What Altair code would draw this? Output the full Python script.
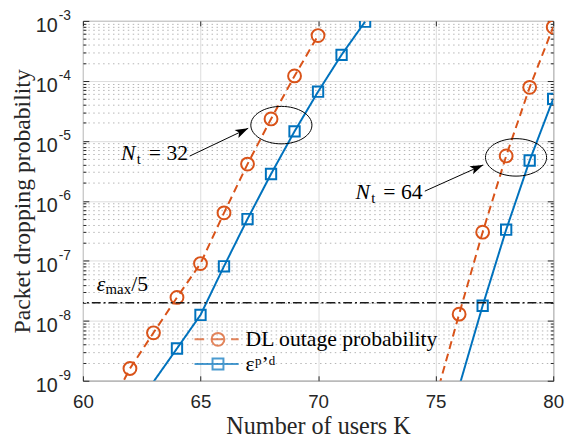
import altair as alt
import pandas as pd

# ---------------- data ----------------
SERIES = ["DL outage probability", "εᵖʼᵈ"]
COLORS = ["#D95319", "#0072BD"]

K_dl_32 = [61, 62, 63, 64, 65, 66, 67, 68, 69, 70]
P_dl_32 = [2.8e-10, 1.6e-9, 6.3e-9, 2.45e-8, 9.0e-8, 6.3e-7, 4.1e-6, 2.32e-5, 1.21e-4, 5.7e-4]
K_pd_32 = [63, 64, 65, 66, 67, 68, 69, 70, 71, 72]
P_pd_32 = [9.6e-10, 3.45e-9, 1.25e-8, 8.1e-8, 4.97e-7, 2.8e-6, 1.44e-5, 6.6e-5, 2.72e-4, 9.7e-4]
K_dl_64 = [75, 76, 77, 78, 79, 80]
P_dl_64 = [5.1e-10, 1.29e-8, 3.0e-7, 5.6e-6, 7.8e-5, 7.9e-4]
K_pd_64 = [76, 77, 78, 79, 80]
P_pd_64 = [8.0e-10, 1.78e-8, 3.3e-7, 4.7e-6, 5.0e-5]

EPS_LINE = [2e-8]

# tick values / labels
XT = [60, 65, 70, 75, 80]
YT_major = [1e-9, 1e-8, 1e-7, 1e-6, 1e-5, 1e-4, 1e-3]
YT_minor = [m * 10.0 ** e for e in range(-9, -3) for m in range(2, 10)]
YT_base = "10"
YT_exp = ["-9", "-8", "-7", "-6", "-5", "-4", "-3"]

# annotations
ann_text = ["ε", "max", "/5", "N", "t", "= 32", "N", "t", "= 64"]
ann_K = [60.587, 60.964, 62.055, 61.62, 62.29, 62.80, 71.593, 72.26, 72.774]
ann_p = [3.16e-8, 2.82e-8, 3.16e-8, 4.79e-6, 4.12e-6, 4.79e-6, 1.06e-6, 9.1e-7, 1.06e-6]
ann_size = [22, 15, 22, 22, 15, 22, 22, 15, 22]
ann_italic = [True, False, False, True, False, False, True, False, False]

ell_K = [68.44, 78.42]
ell_p = [1.83e-5, 5.3e-6]

arr_K0 = [64.54, 74.54]
arr_p0 = [5.57e-6, 1.45e-6]
arr_K1 = [67.03, 77.02]
arr_p1 = [1.62e-5, 3.96e-6]
arr_angle = [334.5, 335.8]

# ---------------- tables ----------------
rows = []
for grp, ks, ps, s in [("32", K_dl_32, P_dl_32, 0), ("32", K_pd_32, P_pd_32, 1),
                       ("64", K_dl_64, P_dl_64, 0), ("64", K_pd_64, P_pd_64, 1)]:
    for k, p in zip(ks, ps):
        rows.append({"K": k, "p": p, "series": SERIES[s], "group": grp + SERIES[s]})
df = pd.DataFrame(rows)

ann_df = pd.DataFrame({"K": ann_K, "p": ann_p, "text": ann_text, "size": ann_size, "italic": ann_italic})
ell_df = pd.DataFrame({"K": ell_K, "p": ell_p})
arr_df = pd.DataFrame({"K0": arr_K0, "p0": arr_p0, "K1": arr_K1, "p1": arr_p1, "ang": arr_angle})
eps_df = pd.DataFrame({"p": EPS_LINE})
leg_df = pd.DataFrame({"name": SERIES, "K": [None, None], "p": [None, None]})

W, H = 477, 365
xs = alt.Scale(domain=[60, 80], nice=False, zero=False)
ys = alt.Scale(type="log", domain=[1e-9, 1e-3], nice=False)

LABEL_FONT = "Liberation Sans"
SERIF = "Liberation Serif"
AX_COL = "#262626"
TICK_COL = "#262626"

common = dict(labelFlush=False, labelOverlap=False, title=None)

ax_x_main = alt.Axis(orient="bottom", values=XT, format="d", ticks=False, domain=False,
                     grid=True, gridColor="#dcdcdc", gridWidth=1,
                     labelFont=LABEL_FONT, labelFontSize=19, labelColor=AX_COL, labelPadding=12,
                     labelFlush=False, labelOverlap=False,
                     title="Number of users K", titleFont=SERIF, titleFontSize=24.5,
                     titleFontWeight="normal", titleColor=AX_COL, titleY=54,
                     titleBaseline="alphabetic")
ax_x_in_b = alt.Axis(orient="top", offset=-H, values=XT, ticks=True, tickSize=5,
                     tickColor=TICK_COL, labels=False, domain=False, grid=False, **common)
ax_x_in_t = alt.Axis(orient="bottom", offset=-H, values=XT, ticks=True, tickSize=5,
                     tickColor=TICK_COL, labels=False, domain=False, grid=False, **common)

ax_y_10 = alt.Axis(orient="left", values=YT_major, labelExpr="'" + YT_base + "'", ticks=False,
                   domain=False, grid=True, gridColor="#dcdcdc", gridWidth=1,
                   labelFont=LABEL_FONT, labelFontSize=20, labelColor=AX_COL, labelPadding=26,
                   labelOffset=4.5, labelFlush=False, labelOverlap=False,
                   title="Packet dropping probability", titleFont=SERIF, titleFontSize=24,
                   titleFontWeight="normal", titleColor=AX_COL, titleX=-54, titleY=H / 2,
                   titleAngle=270, titleBaseline="alphabetic", titleAlign="center")
sup_expr = "[" + ",".join("'" + e + "'" for e in YT_exp) + "][round(log(datum.value)/LN10)+9]"
ax_y_sup = alt.Axis(orient="left", values=YT_major, labelExpr=sup_expr, ticks=False, domain=False,
                    grid=False, labelFont=LABEL_FONT, labelFontSize=14, labelColor=AX_COL,
                    labelAlign="left", labelPadding=25, labelOffset=-5, **common)
ax_y_minor_grid = alt.Axis(orient="left", values=YT_minor, ticks=False, labels=False, domain=False,
                           grid=True, gridColor="#b5b5b5", gridDash=[1.5, 3.5], gridWidth=1, **common)
ax_y_maj_L = alt.Axis(orient="right", offset=-W, values=YT_major, ticks=True, tickSize=6,
                      tickColor=TICK_COL, labels=False, domain=False, grid=False, **common)
ax_y_min_L = alt.Axis(orient="right", offset=-W, values=YT_minor, ticks=True, tickSize=3,
                      tickColor=TICK_COL, labels=False, domain=False, grid=False, **common)
ax_y_maj_R = alt.Axis(orient="left", offset=-W, values=YT_major, ticks=True, tickSize=6,
                      tickColor=TICK_COL, labels=False, domain=False, grid=False, **common)
ax_y_min_R = alt.Axis(orient="left", offset=-W, values=YT_minor, ticks=True, tickSize=3,
                      tickColor=TICK_COL, labels=False, domain=False, grid=False, **common)

col_enc = alt.Color("series:N", scale=alt.Scale(domain=SERIES, range=COLORS), legend=None)

lines = alt.Chart(df).mark_line(strokeWidth=2, clip=True).encode(
    x=alt.X("K:Q", scale=xs, axis=ax_x_main),
    y=alt.Y("p:Q", scale=ys, axis=ax_y_10),
    color=col_enc,
    strokeDash=alt.StrokeDash("series:N", scale=alt.Scale(domain=SERIES, range=[[8, 5], [1, 0]]),
                              legend=None),
    detail="group:N",
)

points = alt.Chart(df).transform_filter("datum.p >= 1e-9").mark_point(
    filled=False, strokeWidth=2, opacity=1, clip=True).encode(
    x=alt.X("K:Q", scale=xs, axis=ax_x_in_b),
    y=alt.Y("p:Q", scale=ys, axis=ax_y_sup),
    color=col_enc,
    shape=alt.Shape("series:N", scale=alt.Scale(domain=SERIES, range=["circle", "square"]), legend=None),
    size=alt.Size("series:N", scale=alt.Scale(domain=SERIES, range=[170, 110]), legend=None),
)

hline = alt.Chart(eps_df).mark_rule(color="#1a1a1a", strokeWidth=1.5, strokeDash=[9, 3, 2, 3]).encode(
    y=alt.Y("p:Q", scale=ys, axis=ax_y_minor_grid),
)

txt_it = alt.Chart(ann_df).transform_filter("datum.italic").mark_text(
    font=SERIF, fontStyle="italic", fontSize=22, align="left", baseline="alphabetic", color="black").encode(
    x=alt.X("K:Q", scale=xs, axis=ax_x_in_t),
    y=alt.Y("p:Q", scale=ys, axis=ax_y_maj_L),
    text="text:N",
)

txt_up = alt.Chart(ann_df).transform_filter("!datum.italic").mark_text(
    font=SERIF, align="left", baseline="alphabetic", color="black").encode(
    x=alt.X("K:Q", scale=xs, axis=None),
    y=alt.Y("p:Q", scale=ys, axis=ax_y_min_L),
    text="text:N",
    size=alt.Size("size:Q", scale=None),
)

ELLIPSE = "M-1,0A1,0.613 0 1,1 1,0A1,0.613 0 1,1 -1,0Z"
ellipses = alt.Chart(ell_df).mark_point(shape=ELLIPSE, size=3844, filled=False, color="black",
                                        strokeWidth=1, opacity=1).encode(
    x=alt.X("K:Q", scale=xs, axis=None),
    y=alt.Y("p:Q", scale=ys, axis=ax_y_maj_R),
)

arrows = alt.Chart(arr_df).mark_rule(color="black", strokeWidth=1).encode(
    x=alt.X("K0:Q", scale=xs, axis=None),
    y=alt.Y("p0:Q", scale=ys, axis=ax_y_min_R),
    x2="K1:Q",
    y2="p1:Q",
)

HEAD = "M0,0L-2.2,-0.75L-1.7,0L-2.2,0.75Z"
heads = alt.Chart(arr_df).mark_point(shape=HEAD, size=144, filled=True, color="black", opacity=1).encode(
    x=alt.X("K1:Q", scale=xs, axis=None),
    y=alt.Y("p1:Q", scale=ys, axis=None),
    angle=alt.Angle("ang:Q", scale=None),
)

PATH_DL = ("M-3.4,0H-2.0 M-0.93,0H0.93 M1.9,0H3.0 "
           "M-0.93,0A0.93,0.93 0 1,1 0.93,0A0.93,0.93 0 1,1 -0.93,0Z")
PATH_PD = "M-3.4,0H3.0 M-0.79,-0.79H0.79V0.79H-0.79Z"
leg = alt.Legend(title=None, orient="none", legendX=126, legendY=312, labelFont=SERIF,
                 labelFontSize=22, labelColor="black", labelLimit=400, symbolSize=196,
                 symbolStrokeWidth=2, labelOffset=17, rowPadding=3, padding=0)
legend_layer = alt.Chart(leg_df).mark_point(filled=False, strokeWidth=2).encode(
    x=alt.X("K:Q", scale=xs, axis=None),
    y=alt.Y("p:Q", scale=ys, axis=None),
    color=alt.Color("name:N", scale=alt.Scale(domain=SERIES, range=COLORS), legend=leg),
    shape=alt.Shape("name:N", scale=alt.Scale(domain=SERIES, range=[PATH_DL, PATH_PD]), legend=leg),
)

chart = alt.layer(
    lines, points, hline, txt_it, txt_up, ellipses, arrows, heads, legend_layer
).resolve_scale(
    color="independent", shape="independent"
).resolve_axis(
    x="independent", y="independent"
).properties(
    width=W, height=H,
    autosize=alt.AutoSizeParams(type="none"),
    padding={"left": 76, "top": 10, "right": 13, "bottom": 56},
    background="white",
).configure_view(stroke=AX_COL, strokeWidth=1)

chart.save("out.html", embed_options={"renderer": "svg", "actions": False})
